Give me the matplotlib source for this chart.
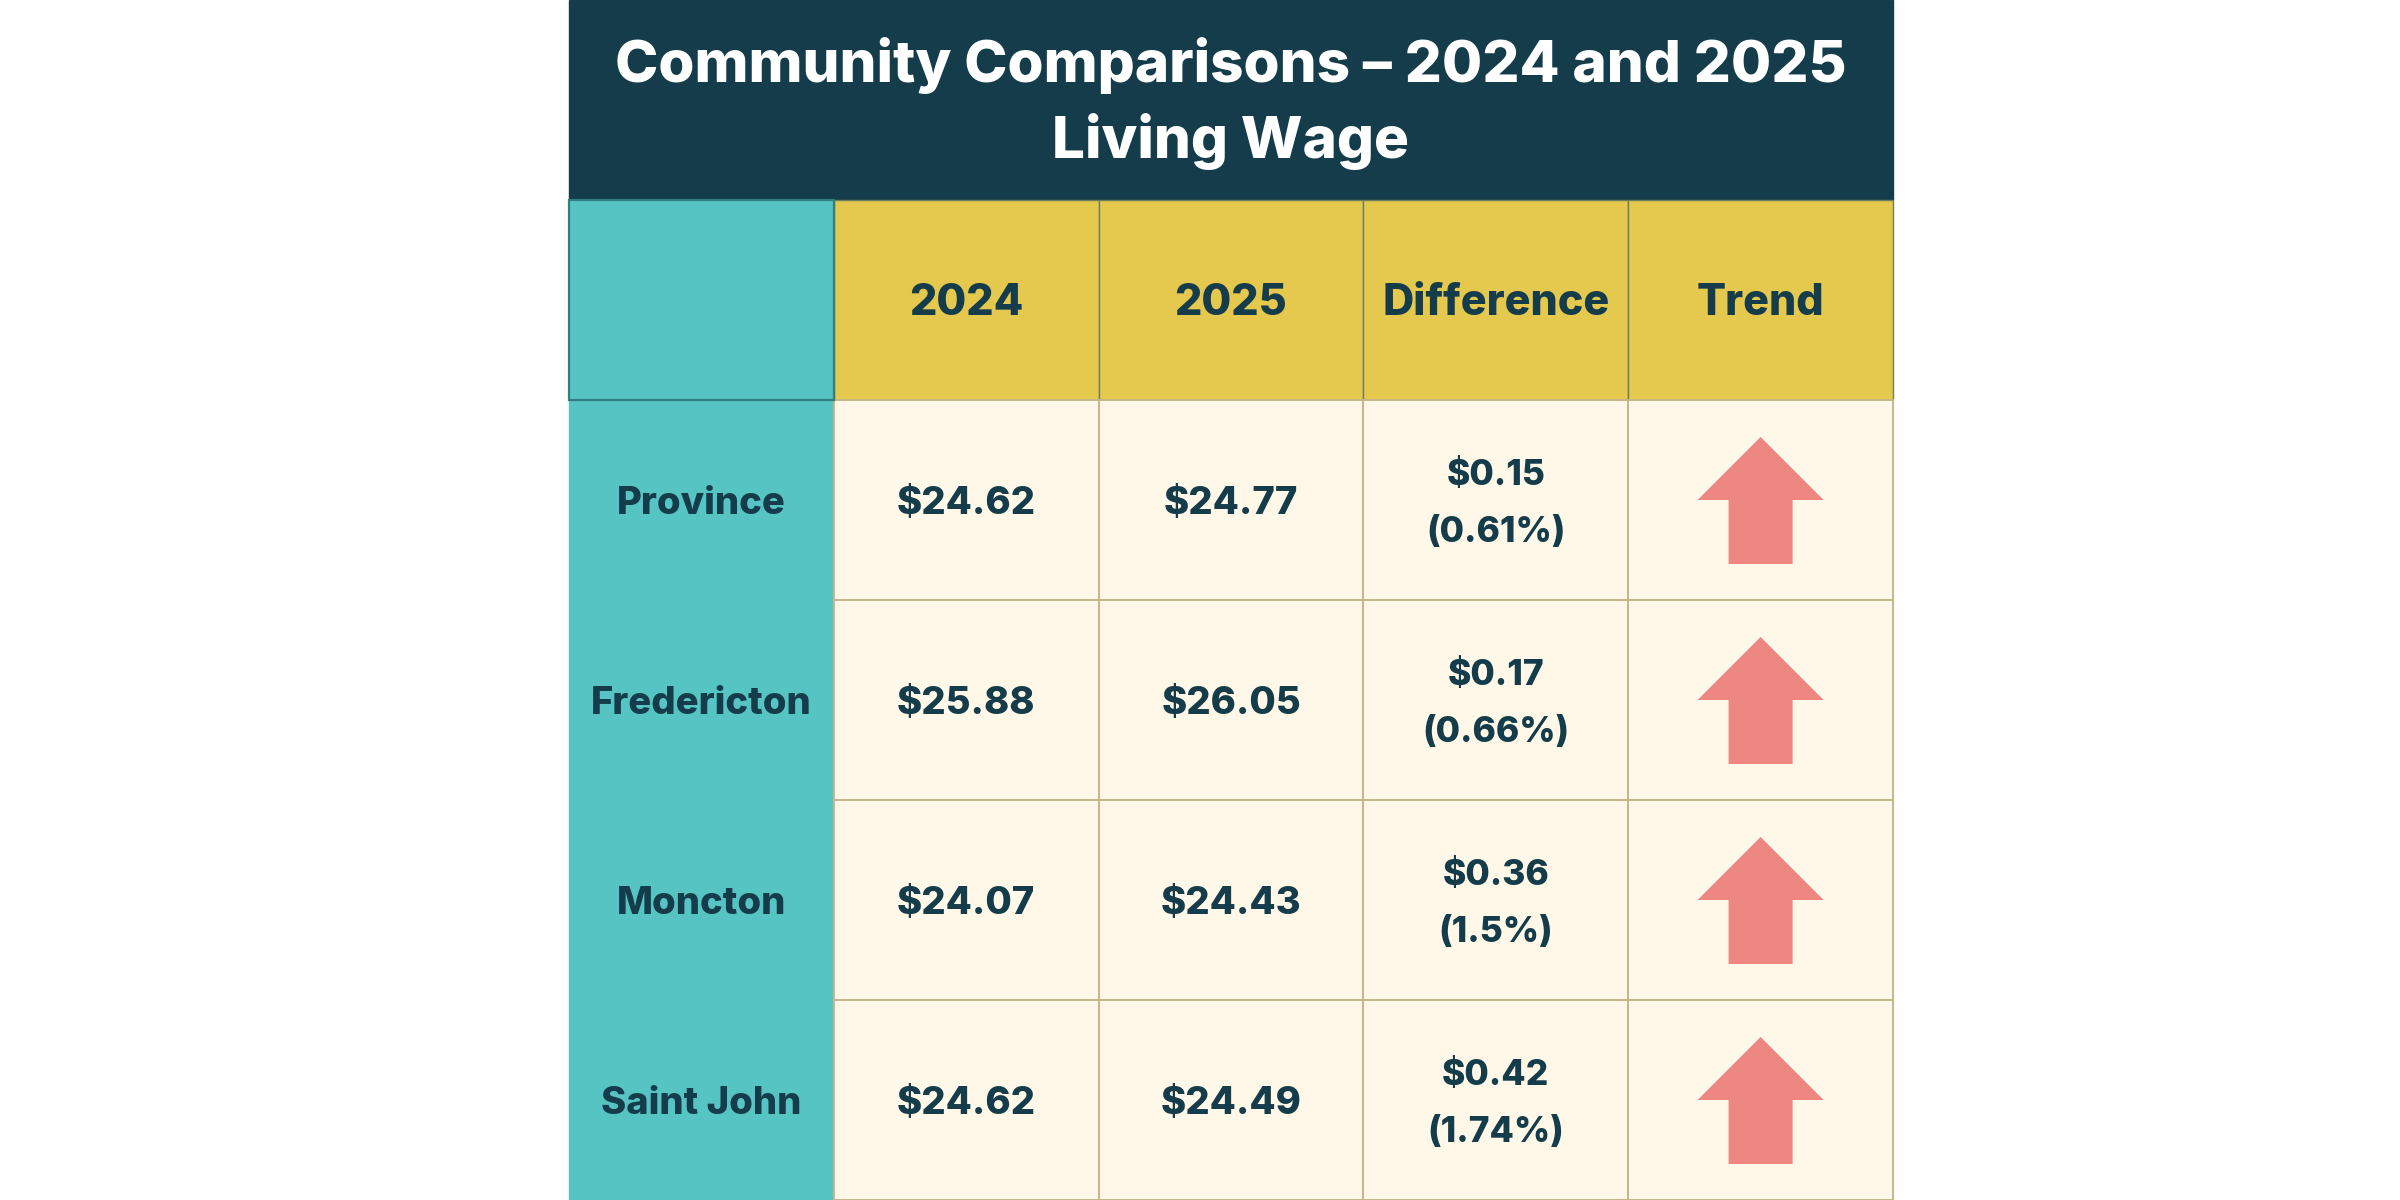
import matplotlib.pyplot as plt
from matplotlib.patches import Rectangle

# datos de la tabla
communities = ["Province", "Fredericton", "Moncton", "Saint John"]
wage_2024 = ["$24.62", "$25.88", "$24.07", "$24.62"]
wage_2025 = ["$24.77", "$26.05", "$24.43", "$24.49"]
diff_amount = ["$0.15", "$0.17", "$0.36", "$0.42"]
diff_pct = ["(0.61%)", "(0.66%)", "(1.5%)", "(1.74%)"]
headers = ["", "2024", "2025", "Difference", "Trend"]
title_lines = ["Community Comparisons \u2013 2024 and 2025", "Living Wage"]

navy = "#143C4A"
teal = "#57C4C4"
yellow = "#E5C84E"
cream = "#FFF8E9"
arrow_col = "#EE8681"
tan = "#C8B587"

plt.rcParams['font.family'] = ['Inter', 'DejaVu Sans']
peso = 800

fig = plt.figure(figsize=(24, 12), dpi=100)
ax = fig.add_axes([0, 0, 1, 1])
ax.set_xlim(0, 2400)
ax.set_ylim(1200, 0)
ax.axis('off')

x0, col_w = 569, 264.8
title_h, row_h = 200, 200
ncol = len(headers)
x1 = x0 + ncol * col_w

# banda del titulo
ax.add_patch(Rectangle((x0, 0), x1 - x0, title_h, color=navy, zorder=1))
for i, line in enumerate(title_lines):
    ax.text((x0 + x1) / 2, 82 + i * 76, line, color="white", fontsize=42,
            fontweight=peso, ha='center', va='baseline', zorder=5)

# fila de encabezado
hy = title_h
for j, h in enumerate(headers):
    cx = x0 + j * col_w
    if j == 0:
        ax.add_patch(Rectangle((cx, hy), col_w, row_h, facecolor=teal,
                               edgecolor="#2E7F80", lw=1.6, zorder=3))
    else:
        ax.add_patch(Rectangle((cx, hy), col_w, row_h, facecolor=yellow,
                               edgecolor="#6E7F5E", lw=1.0, zorder=2))
        ax.text(cx + col_w / 2, hy + 115, h, color=navy, fontsize=31,
                fontweight=peso, ha='center', va='baseline', zorder=5)

# filas de datos
for i, name in enumerate(communities):
    ry = title_h + row_h * (i + 1)
    ax.add_patch(Rectangle((x0, ry), col_w, row_h, color=teal, zorder=1))
    for j in range(1, ncol):
        ax.add_patch(Rectangle((x0 + j * col_w, ry), col_w, row_h,
                               facecolor=cream, edgecolor=tan, lw=1.4, zorder=2))
    cy = ry + row_h / 2
    ax.text(x0 + col_w / 2, cy + 14, name, color=navy, fontsize=27.5,
            fontweight=peso, ha='center', va='baseline', zorder=5)
    ax.text(x0 + 1.5 * col_w, cy + 14, wage_2024[i], color=navy, fontsize=27.5,
            fontweight=peso, ha='center', va='baseline', zorder=5)
    ax.text(x0 + 2.5 * col_w, cy + 14, wage_2025[i], color=navy, fontsize=27.5,
            fontweight=peso, ha='center', va='baseline', zorder=5)
    ax.text(x0 + 3.5 * col_w, cy - 15, diff_amount[i], color=navy, fontsize=25.5,
            fontweight=peso, ha='center', va='baseline', zorder=5)
    ax.text(x0 + 3.5 * col_w, cy + 42, diff_pct[i], color=navy, fontsize=25.5,
            fontweight=peso, ha='center', va='baseline', zorder=5)
    # flecha hacia arriba
    ax_c = x0 + 4.5 * col_w
    xs = [ax_c, ax_c + 63, ax_c + 32, ax_c + 32, ax_c - 32, ax_c - 32, ax_c - 63]
    ys = [cy - 63, cy, cy, cy + 64, cy + 64, cy, cy]
    ax.fill(xs, ys, color=arrow_col, lw=0, zorder=4)

fig.savefig("out.png", dpi=100, facecolor="white")
